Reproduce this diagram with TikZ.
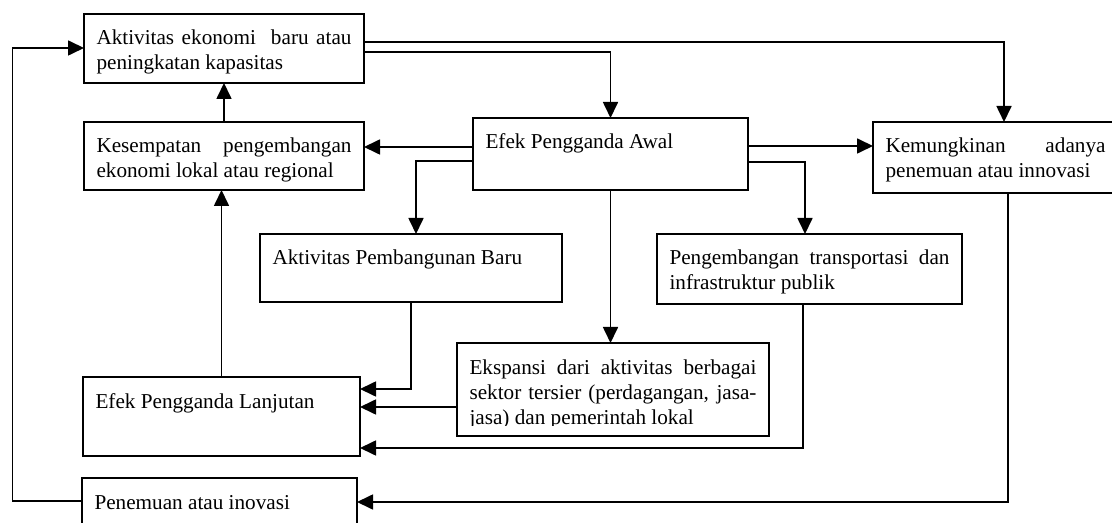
\documentclass[tikz,border=0pt]{standalone}
\usepackage{fontspec}
\setmainfont{Liberation Serif}
\usetikzlibrary{arrows.meta}
\newcommand{\isi}[3]{\parbox[t][#2][t]{#1}{\strut #3}}
\tikzset{
  kotak/.style={draw, line width=1pt, anchor=north west, inner xsep=6.25pt, inner ysep=6.75pt, outer sep=0pt, font=\fontsize{10.6}{12.5}\selectfont},
  panah/.style={->, line width=0.85pt}
}
\begin{document}
\begin{tikzpicture}[x=0.5pt, y=-0.5pt, >={Triangle[length=8pt,width=7.5pt]}]
\useasboundingbox (0,0) rectangle (1112,523);
\clip (0,0) rectangle (1112,523);

\node (aktivitas) at (84,14) [kotak]{\isi{127.5pt}{21pt}{Aktivitas ekonomi\ \ baru atau\linebreak peningkatan kapasitas}};
\node (kesempatan) at (84,122) [kotak]{\isi{127.5pt}{20.5pt}{Kesempatan pengembangan\linebreak ekonomi lokal atau regional}};
\node (awal) at (473,118) [kotak]{\isi{125pt}{22.5pt}{Efek Pengganda Awal}};
\node (mungkin) at (873,122) [kotak]{\isi{110pt}{22pt}{Kemungkinan adanya\linebreak penemuan atau innovasi}};
\node (baru) at (260,234) [kotak]{\isi{138.5pt}{20.5pt}{Aktivitas Pembangunan Baru}};
\node (trans) at (657,234) [kotak]{\isi{140pt}{21.5pt}{Pengembangan transportasi dan\linebreak infrastruktur publik}};
\node (lanjutan) at (83,377) [kotak]{\isi{126pt}{26pt}{Efek Pengganda Lanjutan}};
\node (temuan) at (82,478) [kotak]{\isi{125pt}{22.5pt}{Penemuan atau inovasi}};

% teks ekspansi terpotong di bawah
\begin{scope}
\clip (440,330) rectangle (790,425);
\node (ekspansi) at (457,343) [kotak, draw=none]{\isi{143.5pt}{33pt}{Ekspansi dari aktivitas berbagai\linebreak sektor tersier (perdagangan, jasa-\linebreak jasa) dan pemerintah lokal}};
\end{scope}
\draw[line width=1pt] (ekspansi.north west) rectangle (ekspansi.south east);

\draw[panah] (aktivitas.east |- 0,42) -| (1004,0 |- mungkin.north);
\draw[panah] (aktivitas.east |- 0,52) -| (awal.north);
\draw[panah] (kesempatan.north) -- (aktivitas.south);
\draw[panah] (awal.west |- 0,147) -- (kesempatan.east |- 0,147);
\draw[panah] (awal.west |- 0,161) -| (416,0 |- baru.north);
\draw[panah] (awal.east |- 0,146) -- (mungkin.west |- 0,146);
\draw[panah] (awal.east |- 0,162) -| (805,0 |- trans.north);
\draw[panah] (awal.south) -- (awal.south |- ekspansi.north);
\draw[panah] (baru.south) |- (lanjutan.east |- 0,389);
\draw[panah] (ekspansi.west |- 0,407) -- (lanjutan.east |- 0,407);
\draw[panah] (803,0 |- trans.south) |- (lanjutan.east |- 0,448);
\draw[panah] (lanjutan.north) -- (lanjutan.north |- kesempatan.south);
\draw[panah] (1008,0 |- mungkin.south) |- (temuan.east |- 0,502);
\draw[panah] (temuan.west |- 0,501) -- (12.5,501) |- (aktivitas.west |- 0,48);

\end{tikzpicture}
\end{document}
